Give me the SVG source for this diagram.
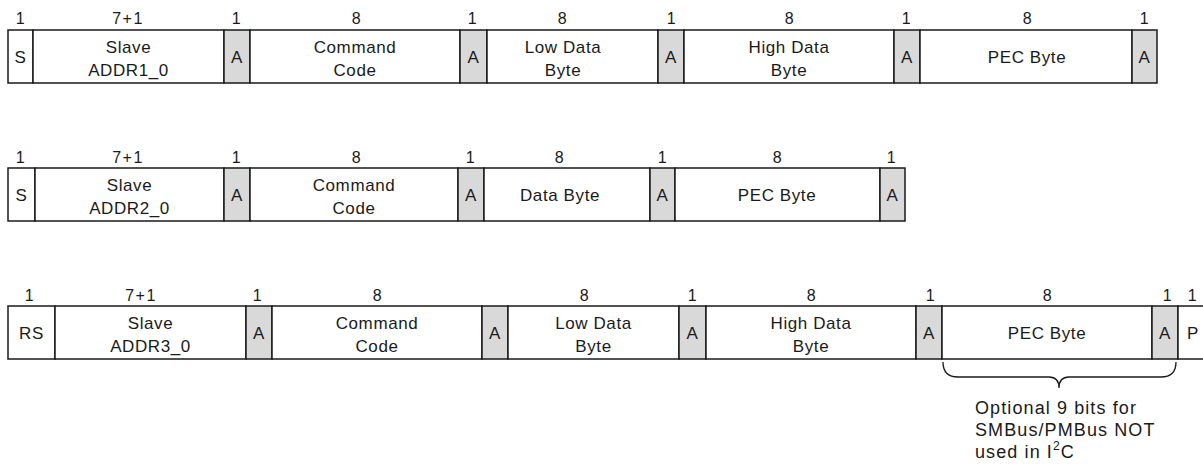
<svg xmlns="http://www.w3.org/2000/svg" width="1203" height="473" viewBox="0 0 1203 473">
<style>
.f{fill:#ffffff;stroke:#1a1a1a;stroke-width:1.5}
.a{fill:#d9d9d9;stroke:#1a1a1a;stroke-width:1.5}
text{font-family:"Liberation Sans",Arial,sans-serif;font-size:17px;letter-spacing:0.6px;fill:#1a1a1a;text-anchor:middle}
.n{font-size:16px;letter-spacing:1.5px}
.l{text-anchor:start;font-size:18px;letter-spacing:1.1px}
.br{fill:none;stroke:#1a1a1a;stroke-width:1.3}
</style>
<rect width="1203" height="473" fill="#ffffff"/>

<!-- Row 1 -->
<g id="row1">
<g id="r1-s"><rect class="f" x="8" y="30" width="25" height="53"/><text x="20.5" y="63">S</text><text class="n" x="21" y="24">1</text></g>
<g id="r1-addr"><rect class="f" x="33" y="30" width="191" height="53"/><text x="128.5" y="53">Slave</text><text x="128.5" y="76">ADDR1_0</text><text class="n" x="128" y="24">7+1</text></g>
<g id="r1-a1"><rect class="a" x="224" y="30" width="26" height="53"/><text x="237" y="63">A</text><text class="n" x="237" y="24">1</text></g>
<g id="r1-cmd"><rect class="f" x="250" y="30" width="210" height="53"/><text x="355" y="53">Command</text><text x="355" y="76">Code</text><text class="n" x="357" y="24">8</text></g>
<g id="r1-a2"><rect class="a" x="460" y="30" width="27" height="53"/><text x="473.5" y="63">A</text><text class="n" x="473" y="24">1</text></g>
<g id="r1-low"><rect class="f" x="487" y="30" width="171" height="53"/><text x="563" y="53">Low Data</text><text x="563" y="76">Byte</text><text class="n" x="563" y="24">8</text></g>
<g id="r1-a3"><rect class="a" x="658" y="30" width="26" height="53"/><text x="671" y="63">A</text><text class="n" x="672" y="24">1</text></g>
<g id="r1-high"><rect class="f" x="684" y="30" width="210" height="53"/><text x="789" y="53">High Data</text><text x="789" y="76">Byte</text><text class="n" x="790" y="24">8</text></g>
<g id="r1-a4"><rect class="a" x="894" y="30" width="26" height="53"/><text x="907" y="63">A</text><text class="n" x="907" y="24">1</text></g>
<g id="r1-pec"><rect class="f" x="920" y="30" width="212" height="53"/><text x="1027" y="63">PEC Byte</text><text class="n" x="1028" y="24">8</text></g>
<g id="r1-a5"><rect class="a" x="1132" y="30" width="25" height="53"/><text x="1144.5" y="63">A</text><text class="n" x="1145" y="24">1</text></g>
</g>

<!-- Row 2 -->
<g id="row2">
<g id="r2-s"><rect class="f" x="8" y="168" width="27" height="53"/><text x="21.5" y="201">S</text><text class="n" x="21" y="163">1</text></g>
<g id="r2-addr"><rect class="f" x="35" y="168" width="189" height="53"/><text x="129.5" y="191">Slave</text><text x="129.5" y="214">ADDR2_0</text><text class="n" x="128" y="163">7+1</text></g>
<g id="r2-a1"><rect class="a" x="224" y="168" width="26" height="53"/><text x="237" y="201">A</text><text class="n" x="237" y="163">1</text></g>
<g id="r2-cmd"><rect class="f" x="250" y="168" width="208" height="53"/><text x="354" y="191">Command</text><text x="354" y="214">Code</text><text class="n" x="357" y="163">8</text></g>
<g id="r2-a2"><rect class="a" x="458" y="168" width="26" height="53"/><text x="471" y="201">A</text><text class="n" x="471" y="163">1</text></g>
<g id="r2-data"><rect class="f" x="484" y="168" width="166" height="53"/><text x="560" y="201">Data Byte</text><text class="n" x="560" y="163">8</text></g>
<g id="r2-a3"><rect class="a" x="650" y="168" width="25" height="53"/><text x="662.5" y="201">A</text><text class="n" x="663" y="163">1</text></g>
<g id="r2-pec"><rect class="f" x="675" y="168" width="205" height="53"/><text x="777" y="201">PEC Byte</text><text class="n" x="778" y="163">8</text></g>
<g id="r2-a4"><rect class="a" x="880" y="168" width="25" height="53"/><text x="892.5" y="201">A</text><text class="n" x="892" y="163">1</text></g>
</g>

<!-- Row 3 -->
<g id="row3">
<g id="r3-rs"><rect class="f" x="8" y="306" width="47" height="53"/><text x="31.5" y="339">RS</text><text class="n" x="30" y="301">1</text></g>
<g id="r3-addr"><rect class="f" x="55" y="306" width="191" height="53"/><text x="150.5" y="329">Slave</text><text x="150.5" y="352">ADDR3_0</text><text class="n" x="141" y="301">7+1</text></g>
<g id="r3-a1"><rect class="a" x="246" y="306" width="26" height="53"/><text x="259" y="339">A</text><text class="n" x="258" y="301">1</text></g>
<g id="r3-cmd"><rect class="f" x="272" y="306" width="210" height="53"/><text x="377" y="329">Command</text><text x="377" y="352">Code</text><text class="n" x="378" y="301">8</text></g>
<g id="r3-a2"><rect class="a" x="482" y="306" width="26" height="53"/><text x="495" y="339">A</text></g>
<g id="r3-low"><rect class="f" x="508" y="306" width="171" height="53"/><text x="593.5" y="329">Low Data</text><text x="593.5" y="352">Byte</text><text class="n" x="585" y="301">8</text></g>
<g id="r3-a3"><rect class="a" x="679" y="306" width="27" height="53"/><text x="692.5" y="339">A</text><text class="n" x="693" y="301">1</text></g>
<g id="r3-high"><rect class="f" x="706" y="306" width="210" height="53"/><text x="811" y="329">High Data</text><text x="811" y="352">Byte</text><text class="n" x="812" y="301">8</text></g>
<g id="r3-a4"><rect class="a" x="916" y="306" width="26" height="53"/><text x="929" y="339">A</text><text class="n" x="931" y="301">1</text></g>
<g id="r3-pec"><rect class="f" x="942" y="306" width="210" height="53"/><text x="1047" y="339">PEC Byte</text><text class="n" x="1048" y="301">8</text></g>
<g id="r3-a5"><rect class="a" x="1152" y="306" width="26" height="53"/><text x="1165" y="339">A</text><text class="n" x="1168" y="301">1</text></g>
<g id="r3-p"><rect class="f" x="1178" y="306" width="40" height="53"/><text x="1193" y="339">P</text><text class="n" x="1193" y="301">1</text></g>
</g>

<!-- Brace and note -->
<g id="connectors">
<path class="br" d="M943,362 Q943,377 958,377 L1049,377 Q1059,377 1059,388 Q1059,377 1069,377 L1161,377 Q1176,377 1176,362"/>
</g>
<g id="note">
<text class="l" x="975" y="414">Optional 9 bits for</text>
<text class="l" x="975" y="436">SMBus/PMBus NOT</text>
<text class="l" x="975" y="458">used in I<tspan dy="-8" font-size="12">2</tspan><tspan dy="8">C</tspan></text>
</g>
</svg>
